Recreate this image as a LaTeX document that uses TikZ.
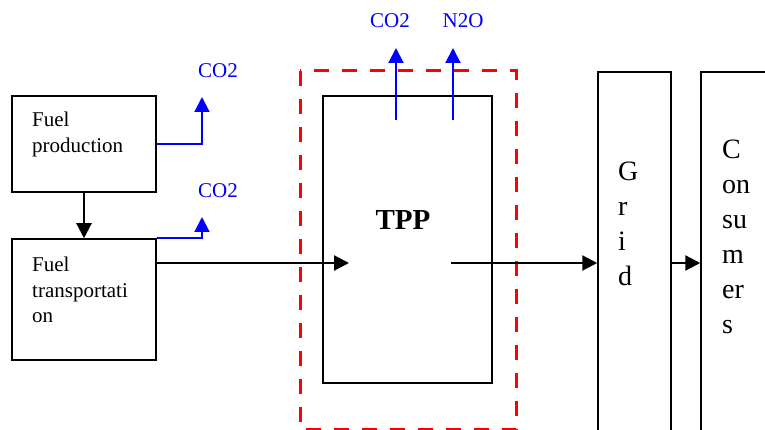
\documentclass[tikz,border=0pt]{standalone}
\usepackage{fontspec}
\setmainfont{Liberation Serif}
\usetikzlibrary{arrows.meta, positioning, calc}
\tikzstyle{arrow} = [line width=2.2pt, -{Triangle[length=15pt,width=15pt]}]

\begin{document}
\begin{tikzpicture}[
  x=1pt, y=-1pt,
  box/.style={draw, line width=1.5pt, inner sep=0pt},
  txt/.style={font=\fontsize{21}{25.7}\selectfont, align=left, inner sep=0pt, anchor=north west},
  tall/.style={font=\fontsize{28}{35}\selectfont, align=left, inner sep=0pt, anchor=north west},
  gas/.style={text=blue, font=\fontsize{21}{24}\selectfont, inner sep=0pt, anchor=base},
  emit/.style={draw=blue, line width=2pt, -{Triangle[length=15pt,width=15pt]}}
]
\useasboundingbox (0,0) rectangle (765,430);
\clip (0,0) rectangle (765,430);

% Fuel chain (left)
\node[box, minimum width=144pt, minimum height=96pt] (prod) at (84,144) {};
\node[box, minimum width=144pt, minimum height=121pt] (trans) at (84,299.5) {};
\node[txt] (prodtxt) at (32,111.7) {Fuel\\production};
\node[txt] (transtxt) at (32,256.7) {Fuel\\transportati\\on};
\draw[arrow] (prod.south) -- (trans.north);

% Emissions of the fuel chain
\coordinate (pv1) at (202,97);
\coordinate (pv2) at (202,217);
\node[gas] (co2a) at (218,78) {CO2};
\node[gas] (co2b) at (218,198) {CO2};
\draw[emit] (prod.east) -| (pv1);
\draw[emit] (trans.north east) -| (pv2);

% Power plant
\draw[red, line width=3pt, dash pattern=on 15pt off 13pt] (300,71) rectangle (516,429.5);
\node[box, minimum width=169pt, minimum height=287pt] (tpp) at (407.5,239.5) {};
\node[anchor=base, inner sep=0pt, font=\fontsize{29}{30}\selectfont\bfseries] (tpptxt) at (403,230) {TPP};
\coordinate (e1s) at (396,120);
\coordinate (e1e) at (396,48);
\coordinate (e2s) at (453,120);
\coordinate (e2e) at (453,48);
\draw[emit] (e1s) -- (e1e);
\draw[emit] (e2s) -- (e2e);
\node[gas] (co2c) at (390,28) {CO2};
\node[gas] (n2o) at (463,28) {N2O};

% Grid and consumers (right)
\node[box, minimum width=73pt, minimum height=380pt] (grid) at (634.5,262) {};
\node[box, minimum width=90pt, minimum height=380pt] (cons) at (746,262) {};
\node[tall] (gridtxt) at (618,162) {G\\r\\i\\d};
\node[tall] (constxt) at (722,140) {C\\on\\su\\m\\er\\s};

% Energy flow
\coordinate (tin) at (349,263);
\coordinate (tout) at (451,263);
\draw[arrow] (trans.east |- tin) -- (tin);
\draw[arrow] (tout) -- (tout -| grid.west);
\draw[arrow] (grid.east |- tout) -- (tout -| cons.west);

\end{tikzpicture}
\end{document}
